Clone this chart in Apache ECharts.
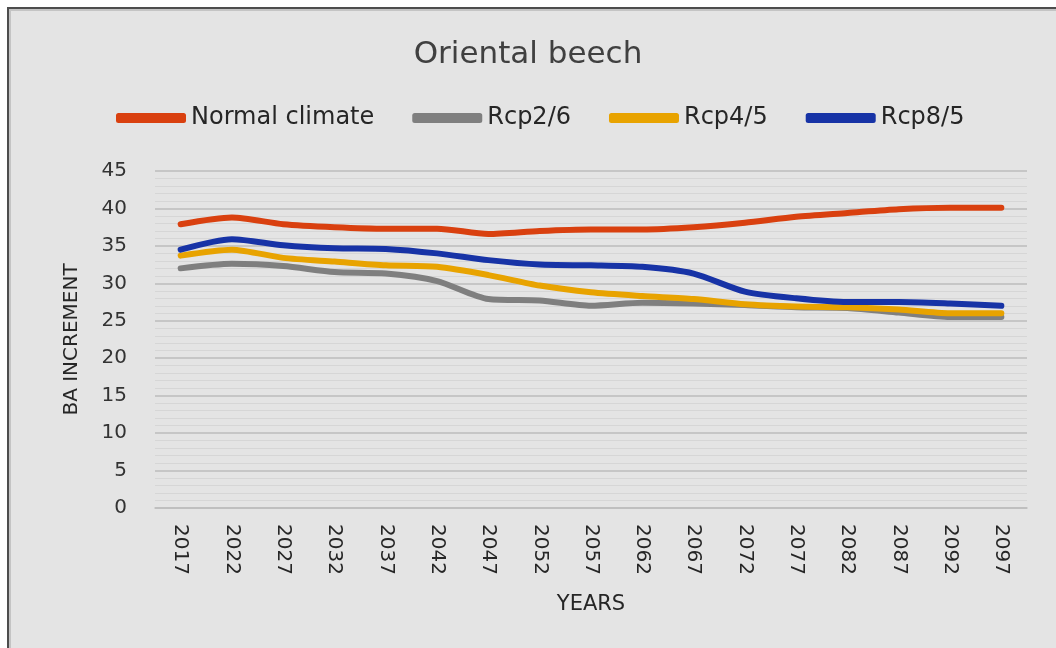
<!DOCTYPE html>
<html>
<head>
<meta charset="utf-8">
<script src="https://cdn.jsdelivr.net/npm/echarts@6/dist/echarts.min.js"></script>
<style>
    html, body { margin: 0; padding: 0; background: #ffffff; overflow: hidden; }
    #frame {
        position: absolute; left: 7px; top: 7px; width: 1080px; height: 680px;
        background: #e4e4e4; border-top: 2px solid #4d4d4d; border-left: 2px solid #4d4d4d;
        box-sizing: border-box; box-shadow: inset 2px 2px 0 #c4c4c4;
    }
    #main { position: absolute; left: 0; top: 0; width: 1056px; height: 648px; }
</style>
</head>
<body>
<div id="frame"></div>
<div id="main"></div>
<script>
var years = ['2017', '2022', '2027', '2032', '2037', '2042', '2047', '2052', '2057',
    '2062', '2067', '2072', '2077', '2082', '2087', '2092', '2097'];

var normalClimate = [37.9, 38.8, 37.9, 37.5, 37.3, 37.3, 36.6, 37.0, 37.2, 37.2, 37.5, 38.1, 38.9, 39.4, 39.9, 40.1, 40.1];
var rcp26 = [32.0, 32.6, 32.3, 31.5, 31.3, 30.3, 27.9, 27.7, 27.0, 27.4, 27.3, 27.1, 26.8, 26.7, 26.1, 25.5, 25.5];
var rcp45 = [33.7, 34.5, 33.4, 32.9, 32.4, 32.2, 31.1, 29.7, 28.8, 28.3, 27.9, 27.2, 26.9, 26.8, 26.5, 26.0, 26.0];
var rcp85 = [34.5, 35.9, 35.1, 34.7, 34.6, 34.0, 33.1, 32.5, 32.4, 32.2, 31.3, 28.9, 28.0, 27.5, 27.5, 27.3, 27.0];

var seriesNames = ['Normal climate', 'Rcp2/6', 'Rcp4/5', 'Rcp8/5'];
var seriesColors = ['#d9400f', '#7f7f7f', '#e8a300', '#1733a6'];
var seriesData = [normalClimate, rcp26, rcp45, rcp85];

var font = 'DejaVu Sans';

var chart = echarts.init(document.getElementById('main'));

var option = {
    backgroundColor: 'transparent',
    animation: false,
    title: {
        text: 'Oriental beech',
        left: 'center',
        top: 34,
        textStyle: { fontFamily: font, fontSize: 31, fontWeight: 'normal', color: '#404040' }
    },
    legend: {
        left: 111,
        top: 101,
        icon: 'roundRect',
        itemWidth: 70,
        itemHeight: 10,
        itemGap: 38,
        textStyle: { fontFamily: font, fontSize: 24, color: '#262626' },
        data: seriesNames
    },
    grid: { left: 155, right: 29, top: 171, bottom: 140 },
    xAxis: {
        type: 'category',
        data: years,
        boundaryGap: true,
        name: 'YEARS',
        nameLocation: 'middle',
        nameGap: 86,
        nameTextStyle: { fontFamily: font, fontSize: 21, color: '#262626' },
        axisLine: { lineStyle: { color: '#bcbcbc', width: 1.5 } },
        axisTick: { show: false },
        axisLabel: { rotate: -90, fontFamily: font, fontSize: 20, color: '#262626', margin: 16 }
    },
    yAxis: {
        type: 'value',
        min: 0,
        max: 45,
        interval: 5,
        name: 'BA INCREMENT',
        nameLocation: 'middle',
        nameRotate: 90,
        nameGap: 73,
        nameTextStyle: { fontFamily: font, fontSize: 20, color: '#262626' },
        axisLine: { show: false },
        axisTick: { show: false },
        axisLabel: { fontFamily: font, fontSize: 20, color: '#333333', margin: 28 },
        splitLine: { lineStyle: { color: '#bdbdbd', width: 1.5 } },
        minorTick: { show: false, splitNumber: 5 },
        minorSplitLine: { show: true, lineStyle: { color: '#d6d6d6', width: 1 } }
    },
    series: seriesNames.map(function (name, i) {
        return {
            name: name,
            type: 'line',
            data: seriesData[i],
            smooth: 0.25,
            showSymbol: false,
            symbol: 'none',
            color: seriesColors[i],
            lineStyle: { width: 6, color: seriesColors[i], cap: 'round', join: 'round' },
            z: 2 + (i === 0 ? 3 : i)
        };
    })
};

chart.setOption(option);

window.onresize = chart.resize;
</script>
</body>
</html>
